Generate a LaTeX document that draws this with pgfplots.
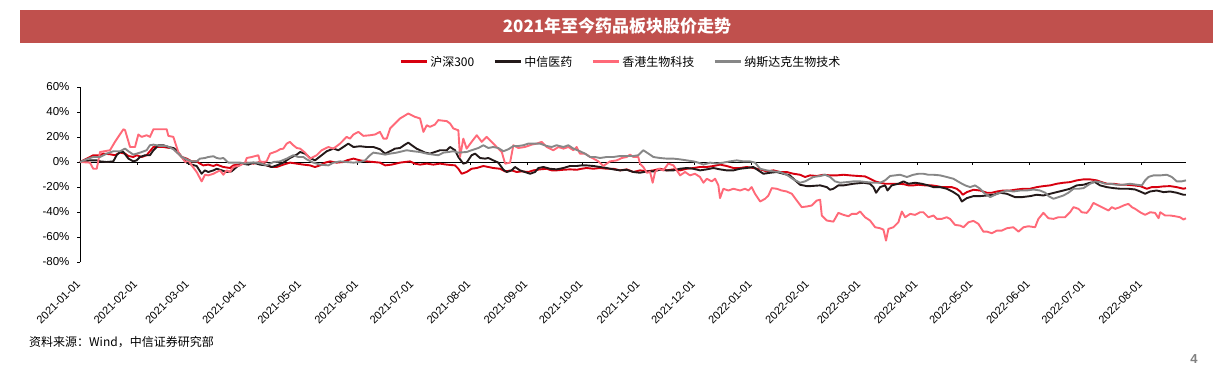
\documentclass[border=0pt]{standalone}
\usepackage{pgfplots}
\pgfplotsset{compat=1.18}
\usepackage{fontspec}
\setmainfont{Liberation Sans}
\newfontfamily\cjk{Noto Sans CJK SC}
\definecolor{hsred}{RGB}{215,0,15}
\definecolor{zxblack}{RGB}{35,25,25}
\definecolor{hkpink}{RGB}{255,105,120}
\definecolor{nbgray}{RGB}{135,135,135}
\definecolor{titlered}{RGB}{192,80,77}
\begin{document}
\begin{tikzpicture}
\path[use as bounding box] (0pt,0pt) rectangle (1220pt,-379pt);
\fill[titlered] (20pt,-10pt) rectangle (1213pt,-43pt);
\node[text=white, font=\cjk\bfseries\fontsize{17}{20}\selectfont] at (617pt,-26.5pt) {2021年至今药品板块股价走势};
\begin{axis}[
  at={(80pt,-262pt)}, anchor=south west,
  scale only axis, width=1106pt, height=175pt,
  xmin=0, xmax=601, ymin=-80, ymax=60,
  axis x line=middle, axis y line=left,
  axis line style={-, black, line width=0.8pt},
  hide obscured x ticks=false,
  xtick={0,31,59,90,120,151,181,212,243,273,304,334,365,396,424,455,485,516,546,577},
  xticklabels={2021-01-01,2021-02-01,2021-03-01,2021-04-01,2021-05-01,2021-06-01,2021-07-01,2021-08-01,2021-09-01,2021-10-01,2021-11-01,2021-12-01,2022-01-01,2022-02-01,2022-03-01,2022-04-01,2022-05-01,2022-06-01,2022-07-01,2022-08-01},
  ytick={-80,-60,-40,-20,0,20,40,60},
  yticklabels={-80\%,-60\%,-40\%,-20\%,0\%,20\%,40\%,60\%},
  tick align=outside, major tick length=3pt,
  tick style={black, line width=0.8pt},
  xticklabel style={anchor=east, inner sep=0pt, font=\fontsize{11}{13}\selectfont, xshift=-1.5pt, yshift=-117pt, rotate=45},
  yticklabel style={font=\fontsize{11.5}{13}\selectfont, xshift=-4pt},
  legend style={at={(0.489,1.143)}, anchor=center, draw=none, fill=none, legend columns=4,
    font=\cjk\fontsize{12}{14}\selectfont,
    /tikz/every even column/.append style={column sep=17pt}},
  legend image code/.code={\draw[#1, line width=3pt] (0pt,0pt) -- (26pt,0pt);},
  every axis plot/.append style={line width=1.9pt, line join=round},
  clip=false,
]
\addplot[hsred] coordinates {
(0,0)(5.4,4.0)(7.2,5.4)(10.9,5.4)(12.7,6.7)(16.3,6.2)(19.0,5.4)(21.7,7.5)(24.5,6.7)(26.3,4.8)(29.0,4.0)(30.8,5.4)(33.5,4.0)(36.2,5.4)(39.9,12.0)(45.3,12.0)(48.9,11.2)(50.7,11.2)(52.5,8.0)(55.3,4.0)(58.0,2.7)(60.7,0.5)(63.4,0.5)(65.2,-1.3)(67.0,-2.7)(69.7,-2.1)(72.5,-3.2)(74.3,-2.1)(77.9,-4.0)(81.5,-4.8)(83.3,-2.7)(86.1,-2.1)(88.8,-1.3)(90.6,-0.5)(94.2,-1.3)(97.8,0)(101.4,-2.7)(104.2,-4.0)(106.9,-4.0)(110.5,-2.1)(114.1,-0.5)(117.8,-1.3)(121.4,-2.1)(125.0,-2.7)(127.7,-4.0)(130.4,-2.7)(133.2,-0.5)(135.9,0.5)(139.5,-0.5)(143.1,0)(144.9,1.3)(148.6,2.7)(152.2,1.3)(155.8,0.5)(159.4,0)(163.0,-0.5)(165.8,-2.7)(169.4,-2.1)(173.9,-0.5)(179.3,0.5)(182.0,-1.3)(184.8,-2.1)(188.4,-1.3)(192.0,-2.1)(195.6,-1.3)(199.3,-2.1)(203.8,-2.7)(205.6,-5.4)(207.4,-9.4)(210.1,-8.0)(212.8,-5.4)(215.6,-4.8)(219.2,-3.2)(221.9,-4.0)(224.6,-4.8)(228.2,-5.4)(231.0,-7.5)(234.6,-6.7)(237.3,-8.0)(240.0,-7.5)(243.6,-8.0)(246.4,-6.7)(250.0,-5.9)(253.6,-5.4)(256.3,-6.7)(259.0,-6.7)(262.7,-6.2)(266.3,-5.9)(269.9,-6.2)(272.6,-5.4)(275.3,-4.8)(279.0,-5.4)(282.6,-4.8)(286.2,-5.4)(289.8,-5.4)(293.5,-6.7)(297.1,-5.9)(300.7,-8.0)(304.3,-6.7)(308.0,-7.5)(311.6,-6.7)(315.2,-5.4)(318.8,-6.7)(322.5,-5.9)(326.1,-6.7)(329.7,-5.4)(333.3,-4.8)(336.9,-4.0)(340.6,-4.0)(344.2,-3.2)(347.8,-2.1)(351.4,-3.2)(355.1,-4.8)(358.7,-4.8)(362.3,-4.0)(365.9,-4.8)(369.6,-5.9)(373.2,-7.5)(376.8,-6.7)(380.4,-8.0)(384.0,-8.0)(387.7,-9.4)(391.3,-10.2)(394.0,-12.0)(396.7,-10.7)(400.4,-11.2)(404.0,-10.2)(407.6,-10.7)(411.2,-10.7)(414.9,-10.2)(418.5,-10.7)(423.0,-11.2)(426.6,-11.5)(429.3,-13.4)(432.1,-15.5)(434.8,-16.6)(437.5,-17.4)(440.2,-17.4)(443.8,-17.4)(447.5,-17.7)(450.2,-18.7)(452.9,-18.7)(455.6,-18.2)(459.2,-18.7)(462.9,-18.7)(465.6,-19.3)(468.3,-20.1)(471.0,-20.1)(473.7,-20.1)(476.4,-21.4)(478.3,-23.6)(479.7,-26.2)(481.9,-24.1)(485.5,-22.2)(489.1,-22.8)(492.8,-24.6)(495.5,-24.6)(498.2,-23.6)(501.8,-22.8)(505.4,-22.8)(509.1,-22.0)(512.7,-21.4)(516.3,-21.4)(519.9,-20.1)(523.5,-19.3)(527.2,-18.7)(530.8,-17.4)(534.4,-16.6)(538.0,-16.1)(541.7,-14.7)(545.3,-13.9)(548.9,-13.9)(552.5,-14.7)(555.2,-16.1)(558.0,-17.4)(561.6,-17.4)(565.2,-18.2)(568.8,-18.2)(572.5,-18.7)(576.1,-19.3)(579.7,-21.4)(582.4,-20.1)(585.1,-20.1)(588.8,-19.5)(592.4,-19.3)(596.0,-20.1)(599.6,-21.4)(601,-20.9)
};
\addlegendentry{沪深300}
\addplot[zxblack] coordinates {
(0,0)(5.4,1.3)(9.1,1.3)(10.9,0.5)(14.5,0)(18.1,0.5)(19.9,5.4)(21.7,8.0)(23.6,8.0)(26.3,2.7)(29.0,0.5)(30.8,1.3)(32.6,4.0)(35.3,5.4)(38.0,5.4)(39.9,9.4)(42.6,13.4)(45.3,13.4)(48.0,12.0)(50.7,11.2)(52.5,9.4)(55.3,4.0)(58.0,-0.5)(60.7,-2.1)(63.4,-3.2)(66.1,-9.4)(67.9,-6.7)(69.7,-8.0)(72.5,-6.7)(74.3,-5.4)(77.0,-6.7)(79.7,-8.0)(82.4,-7.5)(85.1,-4.0)(87.9,-1.3)(91.5,-2.1)(94.2,-0.5)(97.8,-2.1)(101.4,-2.7)(104.2,-4.0)(106.9,-2.7)(110.5,-0.5)(114.1,3.2)(117.8,5.9)(119.6,8.0)(122.3,6.7)(125.0,3.2)(127.7,1.3)(131.3,5.4)(134.1,8.6)(137.7,10.7)(140.4,9.4)(143.1,12.0)(145.8,14.7)(148.6,12.0)(152.2,12.6)(155.8,12.0)(159.4,12.0)(163.0,10.2)(165.8,6.7)(168.5,8.6)(171.2,10.7)(173.9,11.2)(176.6,13.9)(178.4,15.5)(180.3,13.4)(182.9,10.7)(184.8,9.4)(187.5,7.5)(190.2,6.7)(192.9,8.0)(195.6,9.4)(199.3,9.4)(201.1,12.0)(203.8,9.4)(205.6,4.0)(208.3,-1.3)(210.1,-0.5)(212.8,5.4)(214.7,6.7)(217.4,3.2)(220.1,2.7)(221.9,3.2)(224.6,1.3)(227.3,-0.5)(230.1,-6.2)(231.9,-8.0)(234.6,-6.7)(236.4,-4.0)(239.1,-6.7)(241.8,-8.0)(244.6,-9.4)(247.3,-8.0)(249.1,-4.8)(251.8,-4.0)(255.4,-5.4)(259.0,-5.9)(262.7,-4.8)(266.3,-3.2)(269.9,-3.2)(272.6,-2.7)(275.3,-2.7)(279.0,-3.2)(282.6,-4.0)(286.2,-4.8)(289.8,-5.9)(293.5,-6.7)(297.1,-6.2)(300.7,-8.0)(304.3,-8.6)(308.0,-7.5)(311.6,-7.5)(315.2,-6.2)(318.8,-6.7)(322.5,-6.7)(326.1,-5.4)(329.7,-4.8)(333.3,-5.4)(336.9,-6.7)(340.6,-5.9)(344.2,-4.8)(347.8,-5.9)(351.4,-6.7)(355.1,-6.7)(358.7,-5.4)(362.3,-4.8)(365.9,-4.0)(368.6,-6.7)(371.4,-9.4)(375.0,-8.6)(378.6,-8.0)(382.2,-9.4)(385.8,-10.7)(388.6,-14.7)(391.3,-18.2)(394.9,-19.3)(396.7,-19.3)(402.2,-18.7)(405.8,-20.1)(407.6,-22.2)(409.4,-21.4)(412.1,-18.7)(414.9,-18.7)(420.3,-17.4)(425.7,-16.6)(429.3,-17.4)(431.2,-20.1)(432.6,-24.6)(434.8,-20.1)(437.5,-18.7)(438.8,-22.8)(441.1,-18.7)(444.7,-17.4)(447.5,-15.5)(450.2,-17.4)(453.8,-16.6)(457.4,-17.4)(461.0,-18.7)(463.8,-20.1)(467.4,-20.1)(471.0,-21.4)(474.6,-24.1)(477.4,-26.8)(479.2,-31.6)(481.9,-28.9)(485.5,-27.3)(489.1,-27.3)(492.8,-26.8)(496.4,-26.2)(500.0,-24.6)(503.6,-25.4)(508.1,-28.1)(511.8,-28.1)(516.3,-27.3)(519.9,-26.2)(523.5,-26.8)(527.2,-25.4)(530.8,-24.1)(534.4,-22.8)(538.0,-21.4)(541.7,-18.7)(545.3,-18.2)(548.9,-16.6)(551.6,-16.1)(554.3,-18.7)(558.0,-20.1)(561.6,-20.9)(565.2,-21.4)(569.7,-21.4)(573.4,-22.0)(576.1,-23.6)(578.8,-25.4)(581.5,-23.6)(585.1,-22.8)(588.8,-24.1)(592.4,-23.6)(596.0,-24.6)(599.6,-26.2)(601,-26.2)
};
\addlegendentry{中信医药}
\addplot[hkpink] coordinates {
(0,0)(5.4,-0.5)(7.2,-5.4)(9.1,-5.4)(10.9,8.0)(16.3,9.4)(19.0,16.1)(20.8,20.1)(23.6,26.2)(24.5,25.4)(27.2,12.0)(29.9,12.0)(31.7,22.0)(33.5,20.1)(36.2,21.4)(38.0,20.1)(39.9,26.2)(47.1,26.2)(48.0,20.9)(50.7,20.1)(51.6,16.1)(53.4,8.0)(55.3,4.0)(57.1,0)(58.9,1.3)(60.7,-2.7)(63.4,-8.0)(66.1,-15.5)(67.9,-10.2)(69.7,-10.7)(72.5,-9.4)(74.3,-8.0)(76.1,-6.7)(77.9,-10.2)(79.7,-6.7)(81.5,-8.0)(83.3,-4.0)(87.0,-2.7)(89.7,-0.5)(90.6,3.2)(93.3,4.0)(96.9,5.4)(97.8,0.5)(99.6,0)(101.4,0.5)(103.3,6.7)(106.9,8.6)(108.7,10.2)(110.5,10.7)(112.3,14.7)(114.1,16.1)(115.9,13.4)(117.8,11.2)(119.6,10.7)(122.3,7.5)(125.0,2.7)(126.8,4.0)(128.6,5.4)(131.3,9.4)(135.0,12.0)(137.7,10.7)(141.3,14.7)(144.9,20.1)(146.7,18.7)(148.6,22.0)(151.3,24.1)(154.0,20.9)(157.6,21.4)(160.3,22.0)(163.0,24.1)(164.9,18.7)(166.7,18.7)(168.5,26.8)(171.2,30.8)(173.9,34.8)(178.4,38.8)(182.1,36.1)(184.8,34.8)(186.6,24.1)(188.4,29.4)(190.2,28.1)(192.9,30.0)(194.7,33.5)(199.3,32.7)(201.1,30.8)(202.9,26.8)(205.6,25.4)(206.5,4.0)(208.3,18.7)(210.1,10.7)(212.8,16.1)(215.6,21.4)(218.3,16.1)(221.0,20.1)(223.7,16.1)(226.4,12.0)(229.2,8.0)(231.0,-1.3)(233.7,-0.5)(235.5,13.4)(238.2,11.2)(241.8,12.0)(245.5,13.9)(248.2,14.7)(250.9,16.1)(253.6,12.0)(257.2,9.4)(260.0,12.0)(262.7,10.7)(265.4,12.0)(268.1,9.4)(269.9,12.0)(271.7,6.7)(274.4,6.7)(277.2,4.0)(279.0,2.7)(281.7,0.5)(284.4,-3.2)(288.0,0.5)(291.7,1.3)(294.4,3.2)(297.1,4.0)(298.9,5.9)(300.7,4.0)(303.4,4.0)(304.3,-1.3)(306.1,-4.0)(308.0,-8.6)(309.8,-8.0)(311.2,-16.6)(312.5,-8.0)(314.3,-5.4)(317.0,-6.7)(319.7,-1.3)(322.5,-2.7)(324.3,-6.7)(326.1,-10.7)(328.8,-8.0)(331.5,-10.7)(334.2,-9.4)(336.9,-12.0)(338.8,-16.6)(340.6,-13.4)(343.3,-15.5)(345.1,-13.4)(346.9,-18.7)(347.8,-28.9)(349.6,-21.4)(352.3,-22.8)(355.1,-21.4)(358.7,-22.8)(361.4,-21.4)(363.2,-22.8)(365.0,-20.1)(366.8,-25.4)(369.6,-31.6)(372.3,-29.4)(374.1,-26.8)(375.9,-20.9)(378.6,-21.4)(381.3,-22.8)(384.0,-23.6)(386.8,-25.4)(389.5,-30.8)(392.2,-36.1)(394.9,-35.6)(397.6,-34.8)(400.4,-30.8)(402.2,-30.2)(403.1,-42.8)(405.8,-46.8)(409.4,-47.7)(412.1,-40.7)(414.9,-42.3)(417.6,-43.4)(419.4,-41.5)(422.1,-41.5)(423.9,-39.6)(426.6,-44.2)(429.3,-46.8)(432.1,-52.2)(434.8,-53.0)(436.6,-54.1)(438.0,-62.9)(439.3,-53.5)(442.0,-52.2)(444.7,-48.2)(446.6,-39.6)(448.4,-44.2)(451.1,-41.5)(453.8,-42.3)(456.5,-40.2)(458.3,-40.2)(461.0,-44.2)(463.8,-42.8)(465.6,-45.5)(468.3,-45.5)(471.0,-44.2)(472.8,-45.5)(475.5,-50.3)(478.3,-50.9)(480.1,-52.2)(482.8,-48.2)(485.5,-47.1)(488.2,-49.5)(490.9,-55.7)(492.8,-55.7)(495.5,-57.0)(498.2,-54.9)(500.9,-54.9)(503.6,-53.0)(507.2,-52.2)(510.0,-55.7)(512.7,-52.2)(515.4,-51.4)(519.0,-52.2)(520.8,-45.5)(523.5,-40.7)(526.3,-45.0)(529.0,-45.5)(531.7,-44.2)(535.3,-44.2)(538.0,-40.2)(539.9,-36.1)(542.6,-37.5)(544.4,-40.2)(547.1,-40.7)(548.9,-37.5)(550.7,-32.7)(553.4,-34.8)(555.2,-36.1)(557.1,-37.5)(558.9,-38.8)(560.7,-36.1)(562.5,-37.5)(565.2,-36.1)(567.0,-34.8)(569.7,-33.5)(571.6,-36.1)(573.4,-37.5)(576.1,-40.2)(578.8,-42.3)(581.5,-40.2)(584.2,-40.7)(586.1,-45.0)(587.0,-40.2)(589.7,-42.8)(592.4,-42.8)(595.1,-43.4)(597.8,-44.2)(599.6,-46.0)(601,-45.0)
};
\addlegendentry{香港生物科技}
\addplot[nbgray] coordinates {
(0,0)(4.5,2.7)(7.2,4.0)(10.9,4.0)(14.5,6.7)(18.1,8.6)(21.7,8.6)(24.5,10.7)(26.3,8.6)(29.0,5.9)(32.6,7.5)(36.2,9.4)(38.0,13.4)(39.9,13.9)(43.5,12.8)(47.1,12.8)(50.7,10.2)(53.4,6.7)(55.3,4.0)(58.0,2.1)(60.7,0.5)(63.4,0.5)(65.2,2.7)(67.9,3.2)(69.7,4.0)(72.5,4.6)(74.3,3.2)(76.1,2.7)(77.9,3.2)(80.6,-0.5)(83.3,-0.5)(87.0,-0.5)(89.7,-1.3)(92.4,-0.5)(96.0,-0.5)(98.7,-1.3)(101.4,-2.7)(105.1,0)(108.7,0.5)(112.3,2.7)(115.9,5.4)(118.7,4.0)(121.4,4.0)(123.2,2.1)(126.8,-0.5)(130.4,-2.1)(135.0,-2.7)(137.7,-0.5)(141.3,0.5)(144.9,0)(148.6,-0.5)(152.2,0)(154.9,1.3)(157.6,5.4)(159.4,7.5)(163.0,6.7)(165.8,5.9)(168.5,6.7)(172.1,7.5)(177.5,9.4)(181.1,8.6)(184.8,8.0)(188.4,6.7)(192.0,5.9)(194.7,5.4)(197.5,7.5)(200.2,8.0)(202.9,8.6)(205.6,7.5)(210.1,8.0)(212.8,9.4)(216.5,11.2)(219.2,13.4)(221.9,11.2)(224.6,12.0)(227.3,11.2)(230.1,8.6)(232.8,10.2)(235.5,12.8)(238.2,12.8)(240.9,13.4)(243.6,14.7)(250.0,14.7)(253.6,12.8)(256.3,12.0)(259.0,13.4)(262.7,12.0)(265.4,13.4)(268.1,10.7)(271.7,8.6)(274.4,6.7)(277.2,4.0)(279.9,4.0)(282.6,3.2)(286.2,4.0)(289.8,4.0)(293.5,4.8)(300.7,4.8)(303.4,5.4)(306.1,9.4)(308.9,6.7)(311.6,4.0)(315.2,3.2)(318.8,2.7)(322.5,2.7)(326.1,2.1)(329.7,1.3)(333.3,0.5)(336.0,-0.5)(338.8,-2.1)(342.4,-0.5)(346.0,-1.3)(349.6,-0.5)(353.2,0.5)(356.9,1.3)(360.5,0.5)(364.1,0.5)(366.8,-0.5)(369.6,-5.4)(373.2,-6.7)(376.8,-7.5)(380.4,-8.0)(384.0,-10.2)(387.7,-13.9)(391.3,-16.6)(394.0,-15.5)(398.5,-12.0)(402.2,-11.2)(404.9,-10.2)(407.6,-12.0)(410.3,-15.5)(413.0,-16.6)(416.7,-16.1)(420.3,-15.5)(423.9,-15.5)(427.5,-16.1)(431.2,-16.6)(434.8,-16.6)(437.5,-14.7)(440.2,-11.2)(442.9,-10.7)(445.6,-10.2)(449.3,-12.0)(452.9,-10.2)(455.6,-9.4)(458.3,-9.4)(461.0,-10.2)(463.8,-10.2)(467.4,-10.7)(471.0,-12.0)(474.6,-13.4)(478.3,-16.6)(481.0,-18.7)(483.7,-20.1)(486.4,-18.7)(489.1,-21.4)(491.8,-25.4)(494.6,-28.1)(497.3,-26.2)(500.0,-24.6)(503.6,-22.8)(507.2,-23.6)(510.9,-22.8)(514.5,-22.8)(518.1,-22.0)(521.7,-22.8)(524.5,-24.6)(526.3,-27.3)(529.0,-29.4)(531.7,-28.1)(534.4,-26.8)(537.1,-24.6)(539.9,-21.4)(542.6,-21.4)(545.3,-20.9)(548.9,-17.4)(551.6,-15.5)(554.3,-16.1)(557.1,-17.4)(559.8,-17.4)(563.4,-18.2)(567.0,-18.2)(570.6,-17.4)(574.3,-18.2)(577.0,-18.7)(578.8,-14.7)(580.6,-12.0)(583.3,-10.7)(587.0,-10.7)(590.6,-10.2)(593.3,-12.0)(596.0,-15.5)(598.7,-15.5)(601,-14.7)
};
\addlegendentry{纳斯达克生物技术}
\end{axis}
\node[anchor=west, inner sep=0pt, font=\cjk\fontsize{12}{14}\selectfont] at (29pt,-342pt) {资料来源：Wind，中信证券研究部};
\node[inner sep=0pt, text={rgb,255:red,128;green,128;blue,128}, font=\bfseries\fontsize{13}{15}\selectfont] at (1194pt,-359pt) {4};
\end{tikzpicture}
\end{document}
